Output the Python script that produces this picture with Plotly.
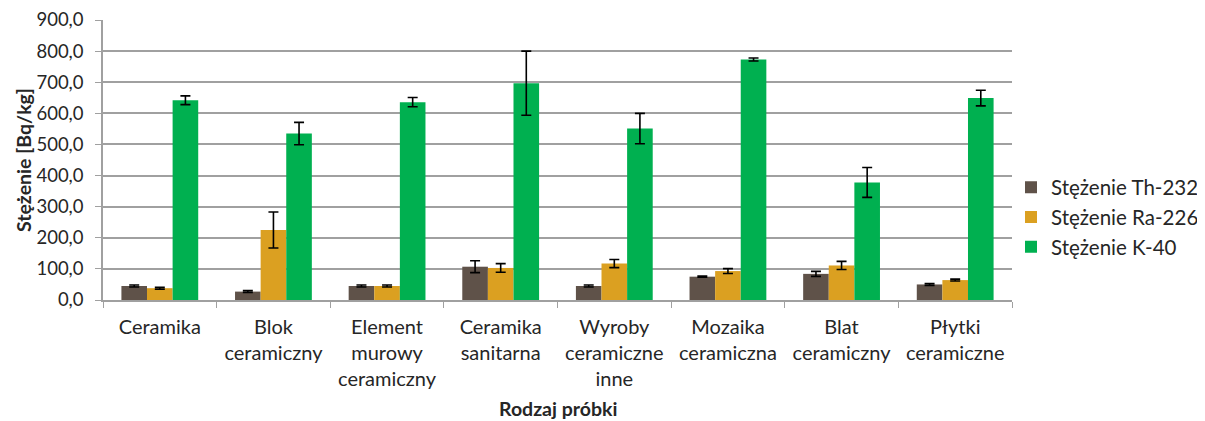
import plotly.graph_objects as go

categories = ["Ceramika", "Blok<br>ceramiczny", "Element<br>murowy<br>ceramiczny",
              "Ceramika<br>sanitarna", "Wyroby<br>ceramiczne<br>inne", "Mozaika<br>ceramiczna",
              "Blat<br>ceramiczny", "Płytki<br>ceramiczne"]
series_names = ["Stężenie Th-232", "Stężenie Ra-226", "Stężenie K-40"]
th232 = [45, 27, 45, 107, 45, 75, 84, 50]
th232_err = [3, 3, 3, 19, 3, 2, 8, 3]
ra226 = [38, 225, 45, 103, 117, 93, 111, 64]
ra226_err = [3, 58, 3, 14, 13, 8, 13, 3]
k40 = [642, 535, 636, 697, 551, 773, 378, 649]
k40_err = [14, 36, 15, 103, 49, 5, 48, 25]
colors = ["#5F5249", "#DBA021", "#00B050"]
y_ticks = [0, 100, 200, 300, 400, 500, 600, 700, 800, 900]

font = "Lato, 'Open Sans', sans-serif"
txt = "#262626"
fig = go.Figure()
for name, vals, errs, col in zip(series_names, [th232, ra226, k40],
                                  [th232_err, ra226_err, k40_err], colors):
    fig.add_trace(go.Bar(
        x=categories, y=vals, name=name, marker_color=col,
        marker_line_width=0,
        error_y=dict(type="data", array=errs, visible=True, color="black",
                     thickness=1.6, width=5),
    ))

W, H = 1197, 413
L, R, T, B = 95, 193, 12, 121
PW, PH = W - L - R, H - T - B
fig.update_layout(
    width=W, height=H,
    margin=dict(l=L, r=R, t=T, b=B, autoexpand=False),
    plot_bgcolor="white", paper_bgcolor="white",
    barmode="group", bargap=0.324, bargroupgap=0,
    separators=", ",
    font=dict(family=font, size=20, color=txt),
    legend=dict(x=(W - 1 - L) / PW, y=0.30 - 1 / PH, xanchor="right", yanchor="middle",
                font=dict(size=20.5), bgcolor="rgba(0,0,0,0)"),
    showlegend=True,
)
fig.update_xaxes(
    automargin=False,
    showline=True, linecolor="#A0A0A0", linewidth=1.5,
    ticks="outside", tickson="boundaries", ticklen=6, tickcolor="#A0A0A0",
    tickfont=dict(size=20, color=txt),
    ticklabelstandoff=8,
)
fig.update_yaxes(
    automargin=False,
    range=[0, 900], tickvals=y_ticks, tickformat=".1f",
    showline=True, linecolor="#A0A0A0", linewidth=1.5,
    showgrid=True, gridcolor="#A0A0A0", gridwidth=1.5,
    ticks="outside", ticklen=6, tickcolor="#A0A0A0",
    tickfont=dict(size=18.5, color=txt),
    ticklabelstandoff=8,
    zeroline=False,
)
fig.add_annotation(text="<b>Rodzaj próbki</b>", xref="paper", yref="paper",
                   x=0.5, y=-(400 - (T + PH)) / PH, xanchor="center", yanchor="middle",
                   showarrow=False, font=dict(size=19.5, color=txt))
fig.add_annotation(text="<b>Stężenie [Bq/kg]</b>", xref="paper", yref="paper",
                   x=-(L - 15) / PW, y=0.5, xanchor="center", yanchor="middle",
                   textangle=-90, showarrow=False, font=dict(size=19.5, color=txt))
fig.write_html("out.html")
